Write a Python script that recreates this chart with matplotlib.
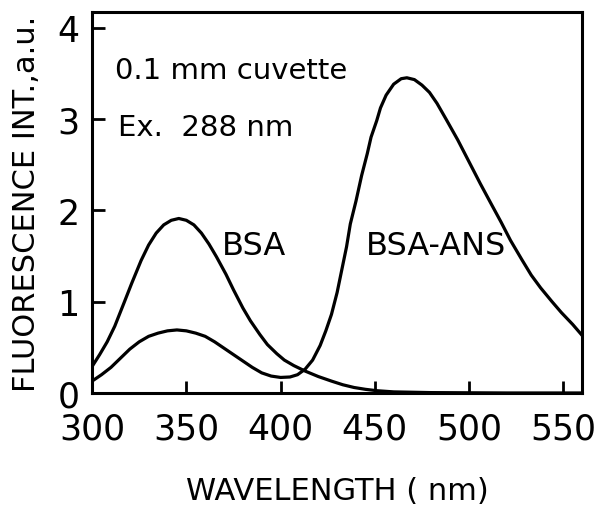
import numpy as np
import matplotlib
matplotlib.use('Agg')
import matplotlib.pyplot as plt

# emission spectra (wavelength in nm, intensity in a.u.)
bsa_wl = [300, 304, 308, 312, 317, 321, 326, 330, 334, 338, 342, 346, 350, 354, 358,
          362, 366, 371, 375, 380, 384, 389, 393, 398, 402, 407, 413, 420, 427,
          433, 439, 445, 451, 460, 480, 520, 560]
bsa_int = [0.29, 0.42, 0.56, 0.73, 0.99, 1.2, 1.45, 1.62, 1.75, 1.84, 1.89, 1.91, 1.89,
           1.84, 1.75, 1.63, 1.49, 1.3, 1.13, 0.93, 0.79, 0.64, 0.53, 0.43, 0.36, 0.3,
           0.24, 0.18, 0.13, 0.09, 0.06, 0.04, 0.025, 0.012, 0.004, 0.0, 0.0]

ans_wl = [300, 305, 310, 315, 320, 325, 330, 335, 340, 345, 350, 355, 360, 365, 370,
          375, 380, 385, 390, 395, 400, 405, 409, 413, 417, 421, 424, 427, 430, 432,
          435, 437, 440, 443, 446, 448, 451, 453, 456, 460, 464, 467, 471, 475,
          479, 483, 488, 494, 500, 506, 512, 517, 522, 528, 533, 538, 544, 549,
          555, 560]
ans_int = [0.13, 0.2, 0.28, 0.38, 0.48, 0.56, 0.62, 0.655, 0.68, 0.69, 0.68, 0.655,
           0.62, 0.56, 0.49, 0.42, 0.35, 0.28, 0.22, 0.185, 0.17, 0.175, 0.2, 0.26, 0.36,
           0.52, 0.68, 0.86, 1.1, 1.3, 1.6, 1.85, 2.1, 2.38, 2.62, 2.8, 2.98, 3.12,
           3.26, 3.38, 3.44, 3.45, 3.43, 3.37, 3.29, 3.17, 2.99, 2.77, 2.53, 2.29,
           2.06, 1.87, 1.67, 1.46, 1.29, 1.15, 1.0, 0.88, 0.75, 0.63]

x_ticks = [300, 350, 400, 450, 500, 550]
y_ticks = [0, 1, 2, 3, 4]

fig = plt.figure(figsize=(6.02, 5.10), dpi=100)
ax = fig.add_axes([0.153, 0.2275, 0.814, 0.747])

ax.plot(bsa_wl, bsa_int, color='black', lw=2.3, solid_capstyle='round')
ax.plot(ans_wl, ans_int, color='black', lw=2.3, solid_capstyle='round')

ax.set_xlim(300, 560)
ax.set_ylim(0, 4.17)
ax.set_xticks(x_ticks)
ax.set_yticks(y_ticks)
ax.tick_params(direction='in', length=9, width=2, labelsize=25, pad=9,
               top=False, right=False)
ax.tick_params(axis='x', pad=13)
for s in ax.spines.values():
    s.set_linewidth(2.2)

ax.set_xlabel('WAVELENGTH ( nm)', fontsize=22, labelpad=22)
ax.set_ylabel('FLUORESCENCE INT.,a.u.', fontsize=22, labelpad=12)

ax.text(312, 3.54, '0.1 mm cuvette', fontsize=21, va='center')
ax.text(314, 2.91, 'Ex.  288 nm', fontsize=21, va='center')
ax.text(369, 1.61, 'BSA', fontsize=23, va='center')
ax.text(445, 1.61, 'BSA-ANS', fontsize=23, va='center')

fig.savefig('out.png', dpi=100)
